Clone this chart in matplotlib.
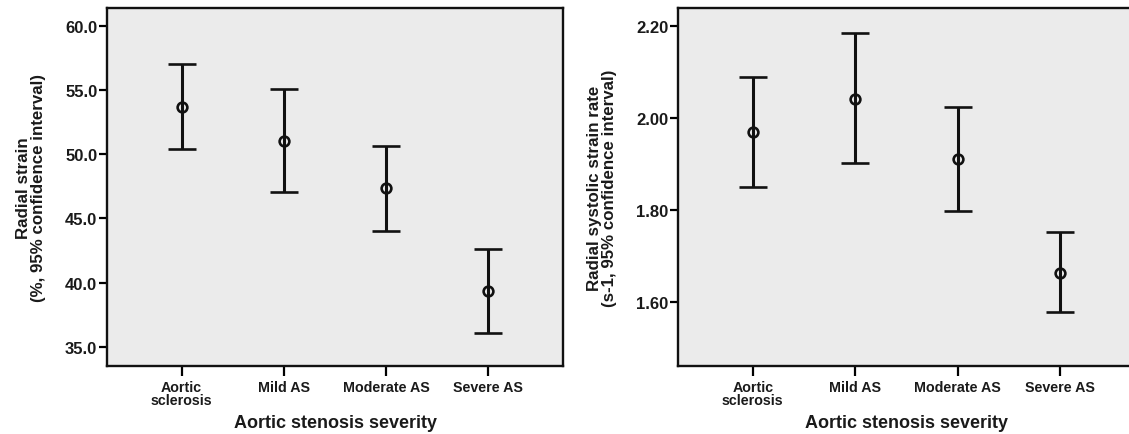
"""
Radial strain and radial systolic strain rate by aortic stenosis severity
(mean with 95% confidence interval), drawn as two side-by-side panels.
"""

import numpy as np
import matplotlib.pyplot as plt

# =============================
# DATA
# =============================

categories = ["Aortic\nsclerosis", "Mild AS", "Moderate AS", "Severe AS"]

strain_mean = [53.67, 51.03, 47.36, 39.32]
strain_low = [50.38, 47.07, 44.05, 36.11]
strain_high = [57.00, 55.09, 50.67, 42.60]
strain_ticks = [35.0, 40.0, 45.0, 50.0, 55.0, 60.0]

rate_mean = [1.969, 2.042, 1.910, 1.663]
rate_low = [1.849, 1.902, 1.797, 1.577]
rate_high = [2.089, 2.185, 2.025, 1.751]
rate_ticks = [1.60, 1.80, 2.00, 2.20]

X_TITLE = "Aortic stenosis severity"
STRAIN_LABEL = "Radial strain\n(%, 95% confidence interval)"
RATE_LABEL = "Radial systolic strain rate\n(s-1, 95% confidence interval)"

# =============================
# STYLE
# =============================

plt.rcParams["font.family"] = ["Liberation Sans", "DejaVu Sans"]
plt.rcParams["font.weight"] = "bold"

TEXT_COLOR = "#1a1a1a"
PANEL_BG = "#ebebeb"


def draw_panel(ax, mean, low, high, ticks, fmt, ylim, ylabel):
    x = np.arange(len(categories))
    mean = np.asarray(mean)
    err = np.vstack([mean - np.asarray(low), np.asarray(high) - mean])

    ax.errorbar(
        x, mean, yerr=err,
        fmt="o", color="#111111", ecolor="#111111",
        elinewidth=2.2, capsize=10, capthick=2.2,
        markersize=7, markerfacecolor="none", markeredgewidth=1.9,
    )

    ax.set_facecolor(PANEL_BG)
    ax.set_xlim(-0.73, 3.73)
    ax.set_ylim(*ylim)

    ax.set_xticks(x)
    ax.set_xticklabels(categories, fontsize=10.3, fontweight="bold",
                       color=TEXT_COLOR, linespacing=0.95)
    ax.set_yticks(ticks)
    ax.set_yticklabels([fmt.format(t) for t in ticks], fontsize=12,
                       fontweight="bold", color=TEXT_COLOR)

    ax.tick_params(axis="x", length=7, width=1.6, pad=3)
    ax.tick_params(axis="y", length=6, width=1.6, pad=1)

    for spine in ax.spines.values():
        spine.set_linewidth(1.7)
        spine.set_color("#111111")

    ax.set_xlabel(X_TITLE, fontsize=13, fontweight="bold",
                  color=TEXT_COLOR, labelpad=5)
    ax.set_ylabel(ylabel, fontsize=12.2, fontweight="bold",
                  color=TEXT_COLOR, linespacing=1.0, labelpad=14)


# =============================
# MAIN
# =============================

def main() -> None:
    fig = plt.figure(figsize=(11.29, 4.35), dpi=100)

    ax_left = fig.add_axes([0.0948, 0.1563, 0.4039, 0.823])
    ax_right = fig.add_axes([0.6005, 0.1563, 0.4048, 0.823])

    draw_panel(ax_left, strain_mean, strain_low, strain_high,
               strain_ticks, "{:.1f}", (33.5, 61.4), STRAIN_LABEL)
    draw_panel(ax_right, rate_mean, rate_low, rate_high,
               rate_ticks, "{:.2f}", (1.46, 2.24), RATE_LABEL)

    fig.savefig("out.png", dpi=100)
    plt.close(fig)


if __name__ == "__main__":
    main()
